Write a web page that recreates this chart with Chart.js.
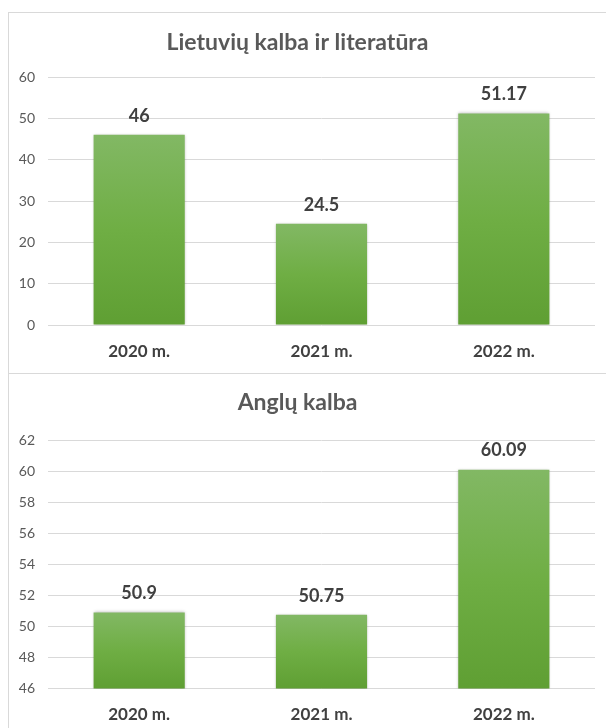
<!DOCTYPE html>
<html><head><meta charset="utf-8">
<script src="https://cdn.jsdelivr.net/npm/chart.js@4/dist/chart.umd.min.js"></script>
<style>
html,body{margin:0;padding:0;background:#fff;width:606px;height:728px;overflow:hidden;}
.frame{position:absolute;border:1px solid #d9d9d9;box-sizing:border-box;}
.wrap{position:absolute;left:0;width:606px;}
</style></head><body>
<div class="frame" style="left:8px;top:12px;width:640px;height:362px;"></div>
<div class="frame" style="left:8px;top:373px;width:640px;height:400px;"></div>
<div class="wrap" style="top:0;height:373px"><canvas id="c1"></canvas></div>
<div class="wrap" style="top:373px;height:355px"><canvas id="c2"></canvas></div>
<script>
const categories = ['2020 m.', '2021 m.', '2022 m.'];
const lithuanianValues = [46, 24.5, 51.17];
const englishValues = [50.9, 50.75, 60.09];
const lithuanianTitle = 'Lietuvių kalba ir literatūra';
const englishTitle = 'Anglų kalba';
const lithuanianTicks = [0, 10, 20, 30, 40, 50, 60];
const englishTicks = [46, 48, 50, 52, 54, 56, 58, 60, 62];

const FONT = 'Lato, "Open Sans", sans-serif';

function barFill(ctx) {
  const c = ctx.chart;
  const ys = c.scales && c.scales.y;
  if (!ys || ctx.type !== 'data' || ys.top === undefined) return '#6fae47';
  const top = ys.getPixelForValue(ctx.raw);
  const bot = ys.getBasePixel();
  if (!isFinite(top) || !isFinite(bot)) return '#6fae47';
  const g = c.ctx.createLinearGradient(0, top, 0, bot);
  g.addColorStop(0, '#82b864');
  g.addColorStop(0.5, '#6fae44');
  g.addColorStop(1, '#5f9f33');
  return g;
}

const shadowPlugin = {
  id: 'barShadow',
  beforeDatasetsDraw(chart) {
    const ctx = chart.ctx;
    ctx.save();
    ctx.shadowColor = 'rgba(0,0,0,0.28)';
    ctx.shadowBlur = 3;
    ctx.shadowOffsetX = 0;
    ctx.shadowOffsetY = 0;
  },
  afterDatasetsDraw(chart) {
    chart.ctx.restore();
  }
};

const valueLabelPlugin = {
  id: 'valueLabels',
  afterDraw(chart) {
    const ctx = chart.ctx;
    ctx.save();
    ctx.font = 'bold 18px ' + FONT;
    ctx.fillStyle = '#404040';
    ctx.textAlign = 'center';
    ctx.textBaseline = 'middle';
    chart.data.datasets.forEach((ds, i) => {
      const meta = chart.getDatasetMeta(i);
      meta.data.forEach((bar, j) => {
        ctx.fillText(String(ds.data[j]), bar.x, bar.y - 19);
      });
    });
    ctx.restore();
  }
};

function makeChart(id, title, values, ticks, opts) {
  return new Chart(document.getElementById(id), {
    type: 'bar',
    data: {
      labels: categories,
      datasets: [{
        data: values,
        backgroundColor: barFill,
        borderWidth: 0,
        categoryPercentage: 1,
        barPercentage: 0.5
      }]
    },
    options: {
      responsive: true,
      maintainAspectRatio: false,
      animation: false,
      devicePixelRatio: 1,
      layout: { padding: { left: 0, right: 11, top: 0, bottom: 0 } },
      plugins: {
        legend: { display: false },
        tooltip: { enabled: false },
        title: {
          display: true,
          text: title,
          color: '#595959',
          font: { family: FONT, size: 23, weight: 'bold' },
          padding: { top: opts.titleTop, bottom: opts.titleBottom }
        }
      },
      scales: {
        x: {
          grid: { display: false, drawTicks: false },
          border: { display: false },
          ticks: {
            color: '#404040',
            font: { family: FONT, size: 17, weight: 'bold' },
            padding: opts.xPad
          },
          afterFit(s) { s.height = opts.xHeight; }
        },
        y: {
          min: ticks[0],
          max: ticks[ticks.length - 1],
          grid: { color: '#d9d9d9', lineWidth: 1, drawTicks: false },
          border: { display: false },
          ticks: {
            stepSize: ticks[1] - ticks[0],
            color: '#595959',
            font: { family: FONT, size: 14 },
            padding: 13
          },
          afterFit(s) { s.width = 48; }
        }
      }
    },
    plugins: [shadowPlugin, valueLabelPlugin]
  });
}

makeChart('c1', lithuanianTitle, lithuanianValues, lithuanianTicks,
  { titleTop: 29.2, titleBottom: 20.2, xHeight: 48, xPad: 16.8 });
makeChart('c2', englishTitle, englishValues, englishTicks,
  { titleTop: 16.2, titleBottom: 23.2, xHeight: 39.5, xPad: 15.5 });
</script>
</body></html>
